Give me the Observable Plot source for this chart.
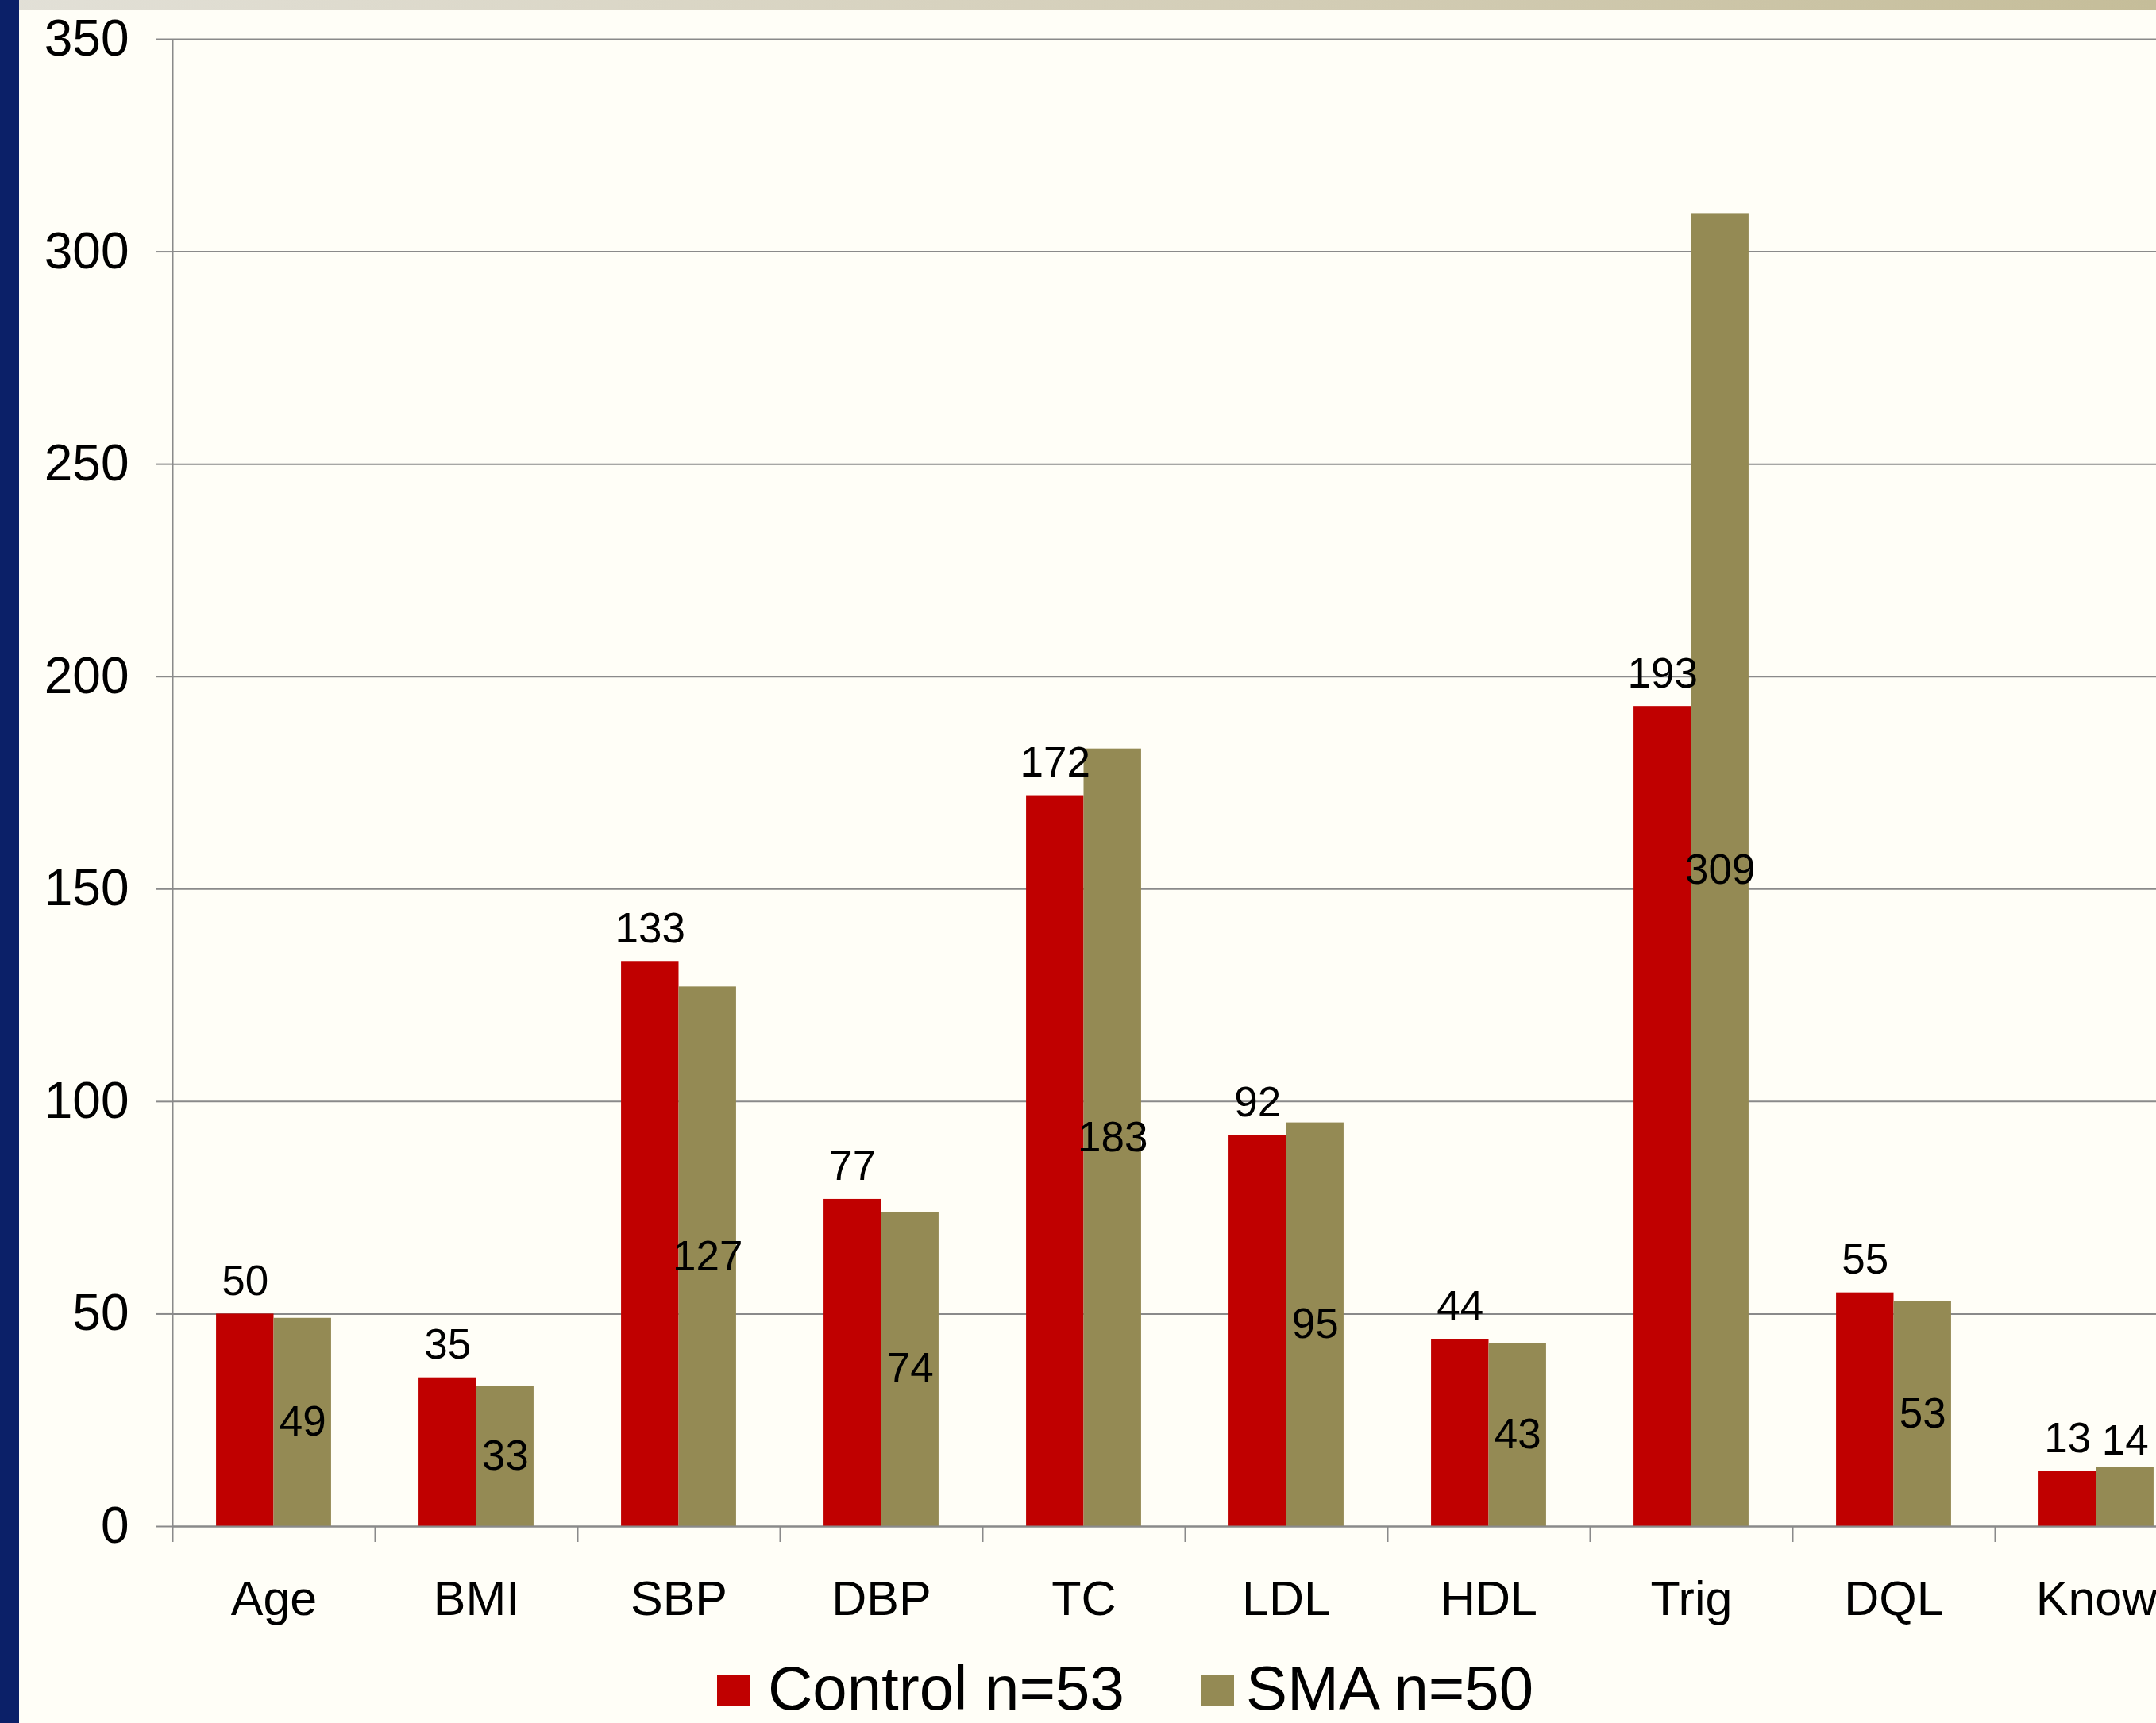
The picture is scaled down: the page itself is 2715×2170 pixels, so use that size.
<!DOCTYPE html>
<html>
<head>
<meta charset="utf-8">
<script src="https://cdn.jsdelivr.net/npm/d3@7"></script>
<script src="https://cdn.jsdelivr.net/npm/@observablehq/plot@0.6"></script>
<style>
  html, body { margin: 0; padding: 0; }
  body {
    width: 2715px; height: 2170px; overflow: hidden; position: relative;
    background: #FFFEF7; font-family: "Liberation Sans", Arial, sans-serif;
  }
  #chart { position: absolute; left: 0; top: 0; width: 2800px; }
  #chart svg { max-width: none !important; }
  #navy { position: absolute; left: 0; top: 0; width: 24px; height: 2170px; background: #0B2068; }
  #band { position: absolute; left: 0; top: 0; width: 2715px; height: 12px;
          background: linear-gradient(to right, #E2E0D7, #D3CDB6 60%, #C5BD99); }
  .sw { position: absolute; width: 42px; height: 39px; }
  .lt { position: absolute; font-size: 78px; line-height: 60px; color: #000; white-space: nowrap; }
</style>
</head>
<body>
<div id="chart"></div>
<div id="legend"></div>
<div id="band"></div>
<div id="navy"></div>
<script>
// ---- data ----
const categories = ["Age", "BMI", "SBP", "DBP", "TC", "LDL", "HDL", "Trig", "DQL", "Know"];
const control = [50, 35, 133, 77, 172, 92, 44, 193, 55, 13];
const sma = [49, 33, 127, 74, 183, 95, 43, 309, 53, 14];
const yTicks = [0, 50, 100, 150, 200, 250, 300, 350];
const seriesNames = ["Control n=53", "SMA n=50"];
const seriesColors = ["#C00000", "#948A54"];

const rows = categories.map((c, i) => ({category: c, control: control[i], sma: sma[i]}));

// ---- layout ----
const marginLeft = 217;
const plotWidth = 2550;            // full category range (chart is cropped on the right)
const width = marginLeft + plotWidth;
const height = 2090;
const marginTop = 49;
const marginBottom = height - 1922;
const bw = plotWidth / categories.length;
const gridColor = "#8A8A8A";

const chart = Plot.plot({
  width, height, marginLeft, marginRight: 0, marginTop, marginBottom,
  style: {background: "transparent", fontFamily: "'Liberation Sans', Arial, sans-serif", color: "#000", overflow: "visible", maxWidth: "none"},
  x: {domain: categories, padding: 0, axis: null},
  y: {domain: [yTicks[0], yTicks[yTicks.length - 1]], axis: null},
  marks: [
    Plot.gridY(yTicks, {stroke: gridColor, strokeOpacity: 1, strokeWidth: 2}),
    Plot.barY(rows, {x: "category", y: "control", fill: seriesColors[0], insetLeft: 0.216 * bw, insetRight: 0.5 * bw}),
    Plot.barY(rows, {x: "category", y: "sma", fill: seriesColors[1], insetLeft: 0.5 * bw, insetRight: 0.216 * bw}),
    // y axis line
    Plot.ruleX([categories[0]], {x: d => d, dx: -bw / 2, y1: yTicks[0], y2: yTicks[yTicks.length - 1], stroke: gridColor, strokeWidth: 2}),
    // baseline
    Plot.ruleY([0], {stroke: gridColor, strokeWidth: 2}),
    Plot.axisY({ticks: yTicks, tickSize: 20, tickPadding: 35, fontSize: 64, stroke: gridColor, strokeWidth: 2, fill: "#000", label: null}),
    // category boundary ticks
    Plot.axisX({tickSize: 20, dx: -bw / 2, tickFormat: () => "", stroke: gridColor, strokeWidth: 2, label: null}),
    // category labels
    Plot.axisX({tickSize: 0, tickPadding: 68, fontSize: 61, fill: "#000", label: null}),
    // value labels
    Plot.text(rows, {x: "category", y: "control", text: d => String(d.control), dx: -0.142 * bw, dy: -41, fontSize: 53, fill: "#000", lineAnchor: "middle"}),
    Plot.text(rows.filter(d => d.sma >= 20), {x: "category", y: d => d.sma / 2, text: d => String(d.sma), dx: 0.142 * bw, fontSize: 53, fill: "#000", lineAnchor: "middle"}),
    Plot.text(rows.filter(d => d.sma < 20), {x: "category", y: "sma", text: d => String(d.sma), dx: 0.142 * bw, dy: -33, fontSize: 53, fill: "#000", lineAnchor: "middle"})
  ]
});
chart.style.maxWidth = "none";
document.getElementById("chart").appendChild(chart);

// ---- legend (below the SVG) ----
const legend = document.getElementById("legend");
const legendPos = [{sw: 903, tx: 967}, {sw: 1512, tx: 1569}];
seriesNames.forEach((name, i) => {
  const s = document.createElement("div");
  s.className = "sw";
  s.style.left = legendPos[i].sw + "px";
  s.style.top = "2109px";
  s.style.background = seriesColors[i];
  legend.appendChild(s);
  const t = document.createElement("div");
  t.className = "lt";
  t.style.left = legendPos[i].tx + "px";
  t.style.top = "2096px";
  t.textContent = name;
  legend.appendChild(t);
});
</script>
</body>
</html>
